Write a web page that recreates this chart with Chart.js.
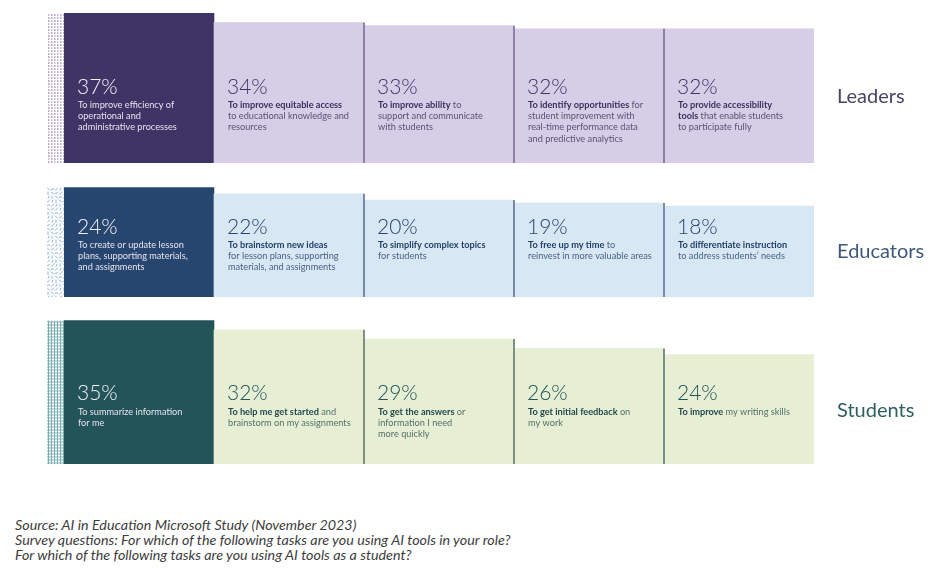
<!DOCTYPE html>
<html>
<head>
<meta charset="utf-8">
<script src="https://cdn.jsdelivr.net/npm/chart.js@4.4.1/dist/chart.umd.min.js"></script>
<style>
  body { margin: 0; background: #fff; width: 940px; height: 575px; overflow: hidden; position: relative; font-family: Lato, sans-serif; }
  .row { position: absolute; left: 0; width: 940px; }
  #source { position: absolute; left: 15px; top: 517px; font: italic 14.3px/15px Lato, sans-serif; color: #3d3d3d; }
</style>
</head>
<body>
<div class="row" style="top:0;height:170px"><canvas id="chartLeaders"></canvas></div>
<div class="row" style="top:165px;height:140px"><canvas id="chartEducators"></canvas></div>
<div class="row" style="top:300px;height:170px"><canvas id="chartStudents"></canvas></div>
<div id="source">
  Source: AI in Education Microsoft Study (November 2023)<br>
  Survey questions: For which of the following tasks are you using AI tools in your role?<br>
  For which of the following tasks are you using AI tools as a student?
</div>
<script>
// data -------------------------------------------------------------------------
const groups = ['Leaders', 'Educators', 'Students'];

const leadersValues = [37, 34, 33, 32, 32];
const educatorsValues = [24, 22, 20, 19, 18];
const studentsValues = [35, 32, 29, 26, 24];

// ** = bold, \n = line break
const leadersTasks = [
  'To improve efficiency of\noperational and\nadministrative processes',
  '**To improve equitable access**\nto educational knowledge and\nresources',
  '**To improve ability** to\nsupport and communicate\nwith students',
  '**To identify opportunities** for\nstudent improvement with\nreal-time performance data\nand predictive analytics',
  '**To provide accessibility\ntools** that enable students\nto participate fully'
];
const educatorsTasks = [
  'To create or update lesson\nplans, supporting materials,\nand assignments',
  '**To brainstorm new ideas**\nfor lesson plans, supporting\nmaterials, and assignments',
  '**To simplify complex topics**\nfor students',
  '**To free up my time** to\nreinvest in more valuable areas',
  '**To differentiate instruction**\nto address students\u2019 needs'
];
const studentsTasks = [
  'To summarize information\nfor me',
  '**To help me get started** and\nbrainstorm on my assignments',
  '**To get the answers** or\ninformation I need\nmore quickly',
  '**To get initial feedback** on\nmy work',
  '**To improve** my writing skills'
];

const BASE = -11.3; // bars start below zero, as in the infographic

// helpers ----------------------------------------------------------------------
function parseTask(str) {
  // returns lines, each line is a list of [text, bold]
  const lines = [[]];
  str.split('**').forEach((part, i) => {
    const bold = i % 2 === 1;
    part.split('\n').forEach((piece, j) => {
      if (j > 0) lines.push([]);
      if (piece) lines[lines.length - 1].push([piece, bold]);
    });
  });
  return lines;
}

function drawPattern(ctx, kind, x0, y0, x1, y1, color) {
  ctx.save();
  ctx.beginPath();
  ctx.rect(x0, y0, x1 - x0, y1 - y0);
  ctx.clip();
  if (kind === 'dots') {
    let r = 0;
    for (let y = y0 + 1; y < y1; y += 3, r++) {
      let c = 0;
      for (let x = x0 + 1; x < x1; x += 3, c++) {
        ctx.fillStyle = (r + c) % 3 === 0 ? '#c9a3c4' : color;
        ctx.fillRect(x, y, 1.5, 1.5);
      }
    }
  } else if (kind === 'dashes') {
    ctx.strokeStyle = color;
    ctx.lineWidth = 1;
    let r = 0;
    for (let y = y0; y < y1; y += 4, r++) {
      let c = 0;
      for (let x = x0; x < x1; x += 4, c++) {
        const k = (r * 7 + c * 13) % 5;
        ctx.beginPath();
        if (k === 0) { ctx.moveTo(x, y); ctx.lineTo(x + 3, y + 3); }
        else if (k === 1) { ctx.moveTo(x + 3, y); ctx.lineTo(x, y + 3); }
        else if (k === 2) { ctx.moveTo(x + 1, y); ctx.lineTo(x + 1, y + 3); }
        else if (k === 3) { ctx.moveTo(x, y + 2); ctx.lineTo(x + 3, y + 1); }
        else { ctx.moveTo(x + 2, y); ctx.lineTo(x + 1, y + 3); }
        ctx.stroke();
      }
    }
  } else if (kind === 'grid') {
    ctx.strokeStyle = color;
    ctx.lineWidth = 0.9;
    for (let x = x0 + 1; x < x1; x += 3) {
      ctx.beginPath(); ctx.moveTo(x + 0.5, y0); ctx.lineTo(x + 0.5, y1); ctx.stroke();
    }
    for (let y = y0 + 1; y < y1; y += 3) {
      ctx.beginPath(); ctx.moveTo(x0, y + 0.5); ctx.lineTo(x1, y + 0.5); ctx.stroke();
    }
  }
  ctx.restore();
}

// plugin: pattern strip, dividers, text in bars, row label ----------------------
const barTextPlugin = {
  id: 'barText',
  afterDatasetsDraw(chart, args, opts) {
    const ctx = chart.ctx;
    const bars = chart.getDatasetMeta(0).data;
    const bottom = chart.chartArea.bottom;
    const tasks = opts.tasks;
    const values = chart.data.datasets[0].data;

    // strip left of the first bar
    const b0 = bars[0];
    const left0 = b0.x - b0.width / 2;
    drawPattern(ctx, opts.pattern, left0 - 17, b0.y, left0, bottom, opts.patternColor);

    // dividers between light bars
    ctx.save();
    ctx.strokeStyle = opts.divider;
    ctx.lineWidth = 1.5;
    for (let i = 2; i < bars.length; i++) {
      const x = bars[i].x - bars[i].width / 2;
      const top = Math.min(bars[i - 1].y, bars[i].y);
      ctx.beginPath();
      ctx.moveTo(x, top);
      ctx.lineTo(x, bottom);
      ctx.stroke();
    }
    ctx.restore();

    // texts
    ctx.save();
    ctx.textBaseline = 'middle';
    ctx.textAlign = 'left';
    bars.forEach((bar, i) => {
      const x = bar.x - bar.width / 2 + 14;
      const dark = i === 0;
      ctx.font = '300 21px Lato';
      ctx.fillStyle = dark ? '#f4f2f8' : opts.pctColor;
      ctx.fillText(values[i] + '%', x - 1, bottom - opts.pctY);
      parseTask(tasks[i]).forEach((line, li) => {
        let cx = x;
        const y = bottom - opts.descY + li * 11.2;
        line.forEach(([txt, bold]) => {
          ctx.font = (bold ? '700 ' : '400 ') + '9.2px Lato';
          ctx.fillStyle = dark ? '#e6e3ef' : (bold ? opts.boldColor : opts.textColor);
          ctx.fillText(txt, cx, y);
          cx += ctx.measureText(txt).width;
        });
      });
    });

    // row label
    ctx.font = '400 20px Lato';
    ctx.fillStyle = opts.labelColor;
    ctx.fillText(opts.label, chart.chartArea.right + 23, bottom - opts.labelY);
    ctx.restore();
  }
};

function makeRow(id, label, values, tasks, max, pad, style) {
  new Chart(document.getElementById(id), {
    type: 'bar',
    data: {
      labels: values.map((v, i) => label + ' ' + (i + 1)),
      datasets: [{
        data: values,
        base: BASE,
        backgroundColor: [style.dark, style.light, style.light, style.light, style.light],
        borderWidth: 0,
        categoryPercentage: 1,
        barPercentage: 1
      }]
    },
    options: {
      responsive: true,
      maintainAspectRatio: false,
      animation: false,
      layout: { padding: { left: 64, right: 126, top: pad[0], bottom: pad[1] } },
      scales: {
        x: { display: false },
        y: { display: false, min: BASE, max: max }
      },
      plugins: {
        legend: { display: false },
        tooltip: { enabled: false },
        barText: Object.assign({ label: label, tasks: tasks }, style)
      }
    },
    plugins: [barTextPlugin]
  });
}

makeRow('chartLeaders', groups[0], leadersValues, leadersTasks, 40, [4, 7], {
  dark: '#3e3466', light: '#d6cee6', divider: '#75698e',
  pattern: 'dots', patternColor: '#9d92b3',
  pctColor: '#3e3466', boldColor: '#3a3060', textColor: '#5a5277',
  labelColor: '#4a4466', pctY: 76, descY: 58, labelY: 66
});

makeRow('chartEducators', groups[1], educatorsValues, educatorsTasks, 30, [4, 8], {
  dark: '#27466f', light: '#d8e7f4', divider: '#566b87',
  pattern: 'dashes', patternColor: '#8db2d6',
  pctColor: '#27466f', boldColor: '#213f66', textColor: '#4a6284',
  labelColor: '#3f5878', pctY: 70, descY: 52, labelY: 45
});

makeRow('chartStudents', groups[2], studentsValues, studentsTasks, 40, [5, 6], {
  dark: '#22545a', light: '#e6efd4', divider: '#5d6f63',
  pattern: 'grid', patternColor: '#6fa7ab',
  pctColor: '#22545a', boldColor: '#24494c', textColor: '#55706b',
  labelColor: '#2f5e60', pctY: 71, descY: 52, labelY: 53
});
</script>
</body>
</html>
